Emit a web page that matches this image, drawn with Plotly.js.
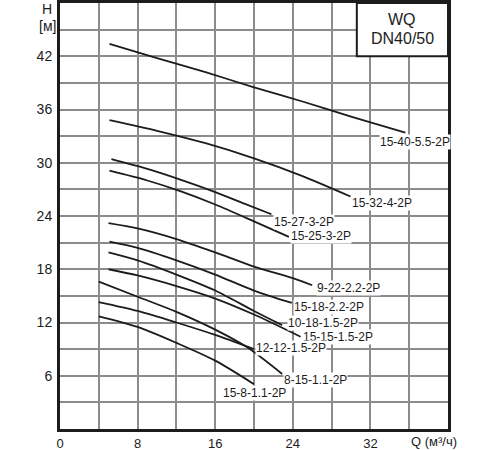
<!DOCTYPE html>
<html>
<head>
<meta charset="utf-8">
<script src="https://cdn.plot.ly/plotly-3.0.1.min.js"></script>
<style>
  html, body { margin: 0; padding: 0; background: #fff; }
  #graph { width: 500px; height: 450px; }
</style>
</head>
<body>
<div id="graph"></div>
<script>
// Pump curves H(Q) for the WQ DN40/50 series.

const curveNames = [
  "15-40-5.5-2P", "15-32-4-2P", "15-27-3-2P", "15-25-3-2P",
  "9-22-2.2-2P", "15-18-2.2-2P", "10-18-1.5-2P", "15-15-1.5-2P",
  "12-12-1.5-2P", "8-15-1.1-2P", "15-8-1.1-2P",
];

const q_15_40 = [5.1, 10, 15, 20, 25, 30, 35.6];
const h_15_40 = [43.4, 41.8, 40.2, 38.5, 36.9, 35.2, 33.4];

const q_15_32 = [5.1, 10, 15, 20, 25, 29.95];
const h_15_32 = [34.8, 33.6, 32.2, 30.5, 28.5, 26.2];

const q_15_27 = [5.3, 9, 12.4, 16, 19, 21.8];
const h_15_27 = [30.4, 29.3, 28.1, 26.7, 25.4, 24.2];

const q_15_25 = [5.1, 9, 12.4, 16, 20, 23.6];
const h_15_25 = [29.1, 28.0, 26.8, 25.3, 23.4, 21.65];

const q_9_22 = [5.0, 8, 12, 16, 20, 24, 26];
const h_9_22 = [23.2, 22.6, 21.4, 19.9, 18.3, 17.0, 16.2];

const q_15_18 = [5.1, 8, 12, 16, 20, 23.9];
const h_15_18 = [21.1, 20.4, 19.0, 17.4, 15.6, 14.2];

const q_10_18 = [5.0, 8, 12, 16, 20, 22.9];
const h_10_18 = [19.9, 19.0, 17.4, 15.6, 13.3, 11.7];

const q_15_15 = [5.0, 8, 12, 16, 20, 24.8];
const h_15_15 = [18.0, 17.3, 16.1, 14.7, 12.9, 10.4];

const q_12_12 = [4.0, 8, 12, 16, 20];
const h_12_12 = [14.3, 13.3, 12.0, 10.6, 9.0];

const q_8_15 = [4.0, 8, 12, 16, 19.3, 22.9];
const h_8_15 = [16.6, 14.9, 13.2, 11.2, 9.2, 6.2];

const q_15_8 = [4.0, 8, 12, 16, 20];
const h_15_8 = [12.7, 11.5, 9.7, 7.7, 5.05];

// where each model name is written (left end of the text)
const labelQ = [32.85, 30.05, 21.98, 23.76, 26.34, 24.07, 23.42, 24.97, 20.15, 23.04, 16.72];
const labelH = [32.3, 25.45, 23.35, 21.75, 15.9, 13.8, 11.9, 10.4, 9.1, 5.5, 4.1];

const xTickVals = [0, 4, 8, 12, 16, 20, 24, 28, 32, 36, 40];
const xTickText = ["0", "", "8", "", "16", "", "24", "", "32", "", ""];
const yTickVals = [0, 3, 6, 9, 12, 15, 18, 21, 24, 27, 30, 33, 36, 39, 42, 45, 48];
const yTickText = ["", "", "6", "", "12", "", "18", "", "24", "", "30", "", "36", "", "42", "", ""];

const seriesQ = [q_15_40, q_15_32, q_15_27, q_15_25, q_9_22, q_15_18, q_10_18, q_15_15, q_12_12, q_8_15, q_15_8];
const seriesH = [h_15_40, h_15_32, h_15_27, h_15_25, h_9_22, h_15_18, h_10_18, h_15_15, h_12_12, h_8_15, h_15_8];

const font = "Liberation Sans, Arial, sans-serif";
const ink = "#1c1c1c";

const traces = curveNames.map((name, i) => ({
  x: seriesQ[i],
  y: seriesH[i],
  name: name,
  type: "scatter",
  mode: "lines",
  line: { color: ink, width: 1.8, shape: "spline", smoothing: 0.8 },
  showlegend: false,
  hoverinfo: "skip",
}));

const curveLabels = curveNames.map((name, i) => ({
  x: labelQ[i],
  y: labelH[i],
  xref: "x",
  yref: "y",
  text: name,
  showarrow: false,
  xanchor: "left",
  yanchor: "middle",
  bgcolor: "#ffffff",
  borderpad: 0,
  font: { family: font, size: 12, color: ink },
}));

const layout = {
  width: 500,
  height: 450,
  paper_bgcolor: "#ffffff",
  plot_bgcolor: "#ffffff",
  margin: { l: 60, r: 52, t: 3, b: 21 },
  font: { family: font, size: 14, color: ink },
  xaxis: {
    range: [0, 40],
    tickmode: "array",
    tickvals: xTickVals,
    ticktext: xTickText,
    ticks: "",
    showgrid: true,
    gridcolor: "#8c8c8c",
    gridwidth: 2,
    zeroline: false,
    showline: true,
    linecolor: ink,
    linewidth: 3,
    mirror: true,
    ticklabelstandoff: 0,
    tickfont: { family: font, size: 13, color: ink },
  },
  yaxis: {
    range: [0, 48],
    tickmode: "array",
    tickvals: yTickVals,
    ticktext: yTickText,
    ticks: "",
    showgrid: true,
    gridcolor: "#8c8c8c",
    gridwidth: 2,
    zeroline: false,
    showline: true,
    linecolor: ink,
    linewidth: 3,
    mirror: true,
    ticklabelstandoff: 2,
    tickfont: { family: font, size: 14, color: ink },
  },
  shapes: [
    {
      type: "rect",
      xref: "x",
      yref: "y",
      x0: 30.6,
      x1: 40,
      y0: 42.0,
      y1: 48,
      fillcolor: "#ffffff",
      line: { color: ink, width: 2 },
      layer: "above",
    },
  ],
  annotations: curveLabels.concat([
    {
      x: 35.3, y: 46.1, xref: "x", yref: "y",
      text: "WQ", showarrow: false,
      font: { family: font, size: 16, color: ink },
    },
    {
      x: 35.3, y: 44.05, xref: "x", yref: "y",
      text: "DN40/50", showarrow: false,
      font: { family: font, size: 16, color: ink },
    },
    {
      x: 38.6, y: 0, xref: "x", yref: "paper",
      text: "Q (м³/ч)", showarrow: false,
      xanchor: "center", yanchor: "top", yshift: -3,
      font: { family: font, size: 13, color: ink },
    },
    {
      x: 0, y: 1, xref: "paper", yref: "paper",
      text: "H", showarrow: false,
      xanchor: "center", yanchor: "middle", xshift: -13, yshift: -6,
      font: { family: font, size: 14, color: ink },
    },
    {
      x: 0, y: 1, xref: "paper", yref: "paper",
      text: "[м]", showarrow: false,
      xanchor: "center", yanchor: "middle", xshift: -13, yshift: -23,
      font: { family: font, size: 14, color: ink },
    },
  ]),
};

const config = { displayModeBar: false };

Plotly.newPlot("graph", traces, layout, config);
</script>
</body>
</html>
